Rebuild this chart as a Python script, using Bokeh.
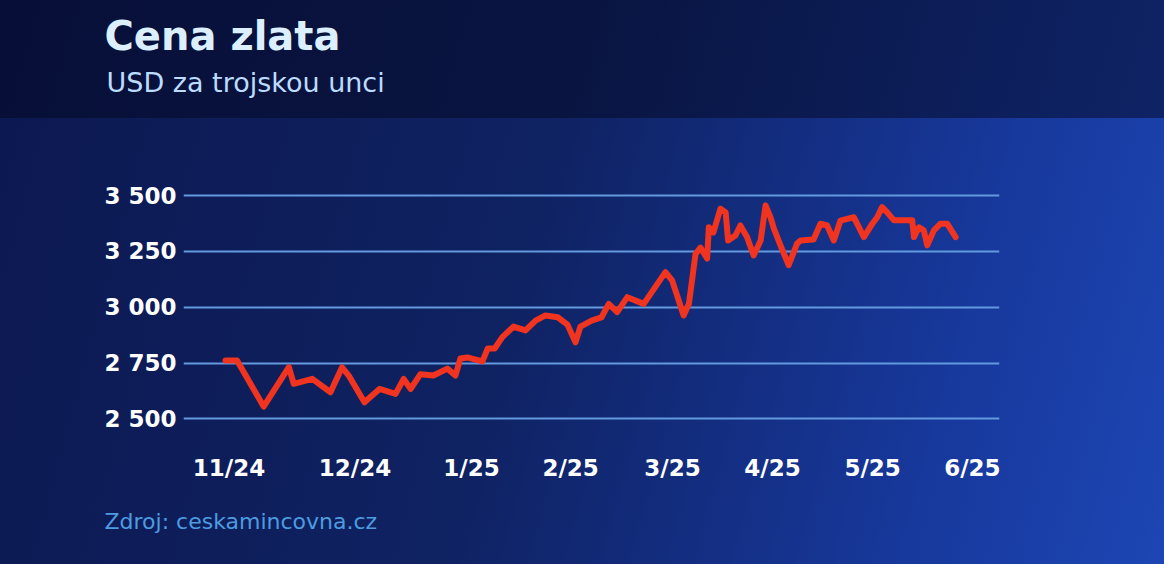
from bokeh.plotting import figure
from bokeh.models import FixedTicker, Title
from bokeh.embed import file_html
from bokeh.resources import INLINE

# ---- data ----
days = [0, 3.3, 10.9, 18.1, 19.5, 24.8, 30.0, 33.3, 35.2, 39.7, 44.0, 48.6, 50.9, 52.9,
        55.7, 59.4, 63.4, 65.7, 67.1, 69.1, 73.4, 74.9, 76.9, 79.1, 82.3, 85.7, 88.6,
        91.4, 94.9, 97.7, 100.0, 101.4, 104.6, 107.4, 109.5, 111.9, 114.8, 119.5, 125.7,
        127.6, 130.9, 132.4, 134.3, 135.7, 137.6, 138.1, 139.4, 141.4, 142.9, 143.6,
        145.7, 147.1, 149.0, 150.9, 152.9, 154.3, 155.7, 156.7, 158.6, 160.9, 163.3,
        164.3, 168.0, 170.0, 171.9, 173.8, 175.7, 179.5, 182.4, 184.8, 186.2, 187.6,
        189.0, 191.0, 196.2, 196.7, 198.1, 199.5, 200.5, 202.4, 204.3, 206.2, 208.6]
price = [2761, 2761, 2555, 2732, 2657, 2679, 2619, 2731, 2694, 2574, 2634, 2612, 2679, 2634,
         2700, 2694, 2725, 2694, 2770, 2775, 2757, 2815, 2815, 2866, 2913, 2896, 2940,
         2963, 2955, 2922, 2843, 2913, 2940, 2954, 3015, 2978, 3045, 3015, 3157,
         3120, 2963, 3015, 3239, 3267, 3218, 3358, 3335, 3441, 3424, 3299,
         3321, 3366, 3314, 3232, 3299, 3456, 3403, 3351, 3276, 3188, 3285,
         3299, 3303, 3374, 3366, 3299, 3388, 3403, 3314, 3374, 3403, 3448,
         3426, 3389, 3389, 3314, 3358, 3344, 3277, 3344, 3374, 3374, 3314]

x_tick_pos = [1, 37, 70.3, 98.6, 127.7, 156.3, 184.9, 213.4]
x_tick_labels = ["11/24", "12/24", "1/25", "2/25", "3/25", "4/25", "5/25", "6/25"]
y_ticks = [2500, 2750, 3000, 3250, 3500]
y_tick_labels = ["2 500", "2 750", "3 000", "3 250", "3 500"]

title_text = "Cena zlata"
subtitle_text = "USD za trojskou unci"
source_text = "Zdroj: ceskamincovna.cz"

FONT = "DejaVu Sans"

p = figure(width=1164, height=564, output_backend="svg", toolbar_location=None,
           x_range=(-12, 221.14), y_range=(2403, 3925.8),
           min_border_left=183, min_border_right=165, min_border_top=100, min_border_bottom=124)

p.background_fill_alpha = 0
p.border_fill_alpha = 0
p.outline_line_color = None

p.line(days, price, line_color="#f0341f", line_width=6, line_join="round", line_cap="round")

p.xgrid.visible = False
p.ygrid.ticker = FixedTicker(ticks=y_ticks)
p.ygrid.grid_line_color = "#6399de"
p.ygrid.grid_line_width = 2

p.yaxis.ticker = FixedTicker(ticks=y_ticks)
p.yaxis.major_label_overrides = dict(zip(y_ticks, y_tick_labels))
p.xaxis.ticker = FixedTicker(ticks=x_tick_pos)
p.xaxis.major_label_overrides = dict(zip(x_tick_pos, x_tick_labels))

for ax in (p.xaxis[0], p.yaxis[0]):
    ax.axis_line_color = None
    ax.major_tick_line_color = None
    ax.minor_tick_line_color = None
    ax.major_tick_out = 0
    ax.major_tick_in = 0
    ax.minor_tick_out = 0
    ax.minor_tick_in = 0
    ax.major_label_text_color = "#ffffff"
    ax.major_label_text_font = FONT
    ax.major_label_text_font_style = "bold"

p.yaxis.major_label_text_font_size = "23px"
p.yaxis.major_label_standoff = 7
p.xaxis.major_label_text_font_size = "23px"
p.xaxis.major_label_standoff = 14

p.add_layout(Title(text=subtitle_text, align="left", offset=-77, standoff=5,
                   text_font=FONT, text_font_style="normal", text_font_size="27px",
                   text_color="#bcdcff"), "above")
p.add_layout(Title(text=title_text, align="left", offset=-79, standoff=7,
                   text_font=FONT, text_font_style="bold", text_font_size="40px",
                   text_color="#dcefff"), "above")
p.add_layout(Title(text=source_text, align="left", offset=-79, standoff=46,
                   text_font=FONT, text_font_style="normal", text_font_size="22px",
                   text_color="#4d9be0"), "below")

html = file_html(p, INLINE)
style = ("<style>html{background:"
         "linear-gradient(to bottom, rgba(3,7,32,0.5) 0px, rgba(3,7,32,0.5) 118px, rgba(0,0,0,0) 118px),"
         "linear-gradient(105deg, #0c1850 0%, #0f2262 45%, #17389c 80%, #1d46b4 100%) !important;}"
         "body{margin:0 !important;background:transparent !important;}</style></head>")
html = html.replace("</head>", style, 1)
open("out.html", "w").write(html)
